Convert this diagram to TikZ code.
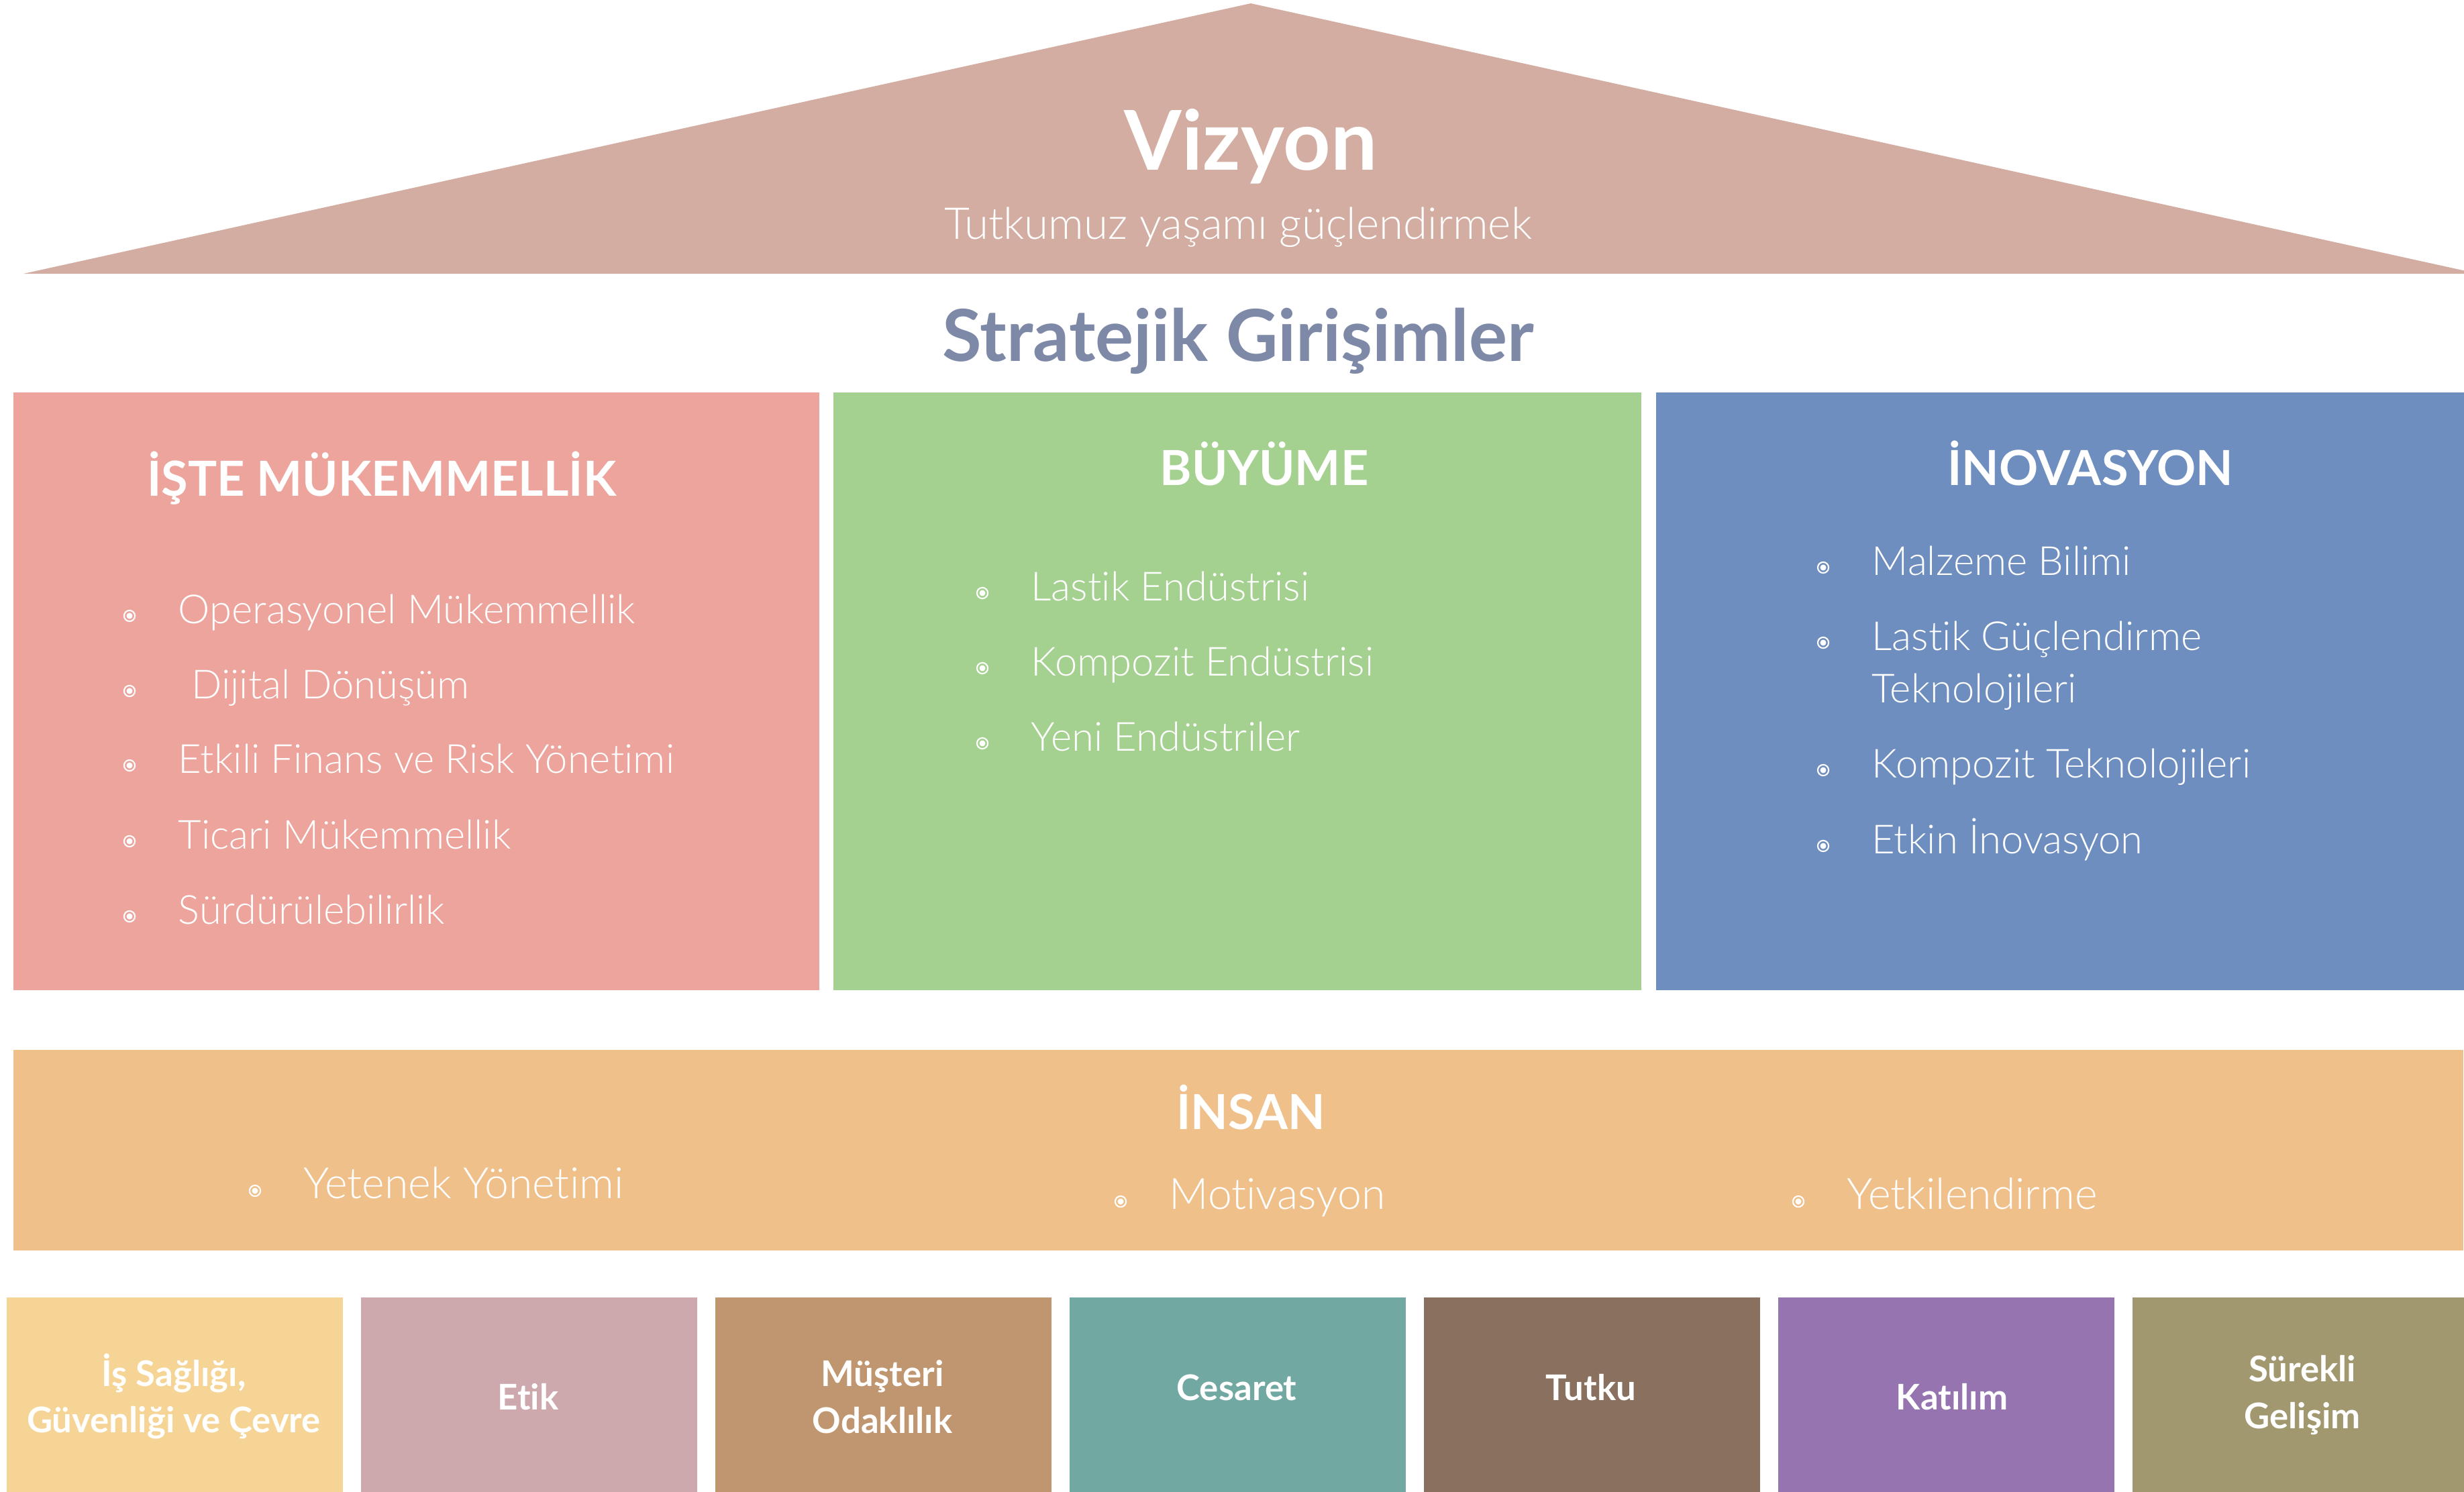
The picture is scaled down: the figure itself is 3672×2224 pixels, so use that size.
\documentclass[tikz,border=0pt]{standalone}
\usepackage{fontspec}
\setmainfont{Lato}[Ligatures={NoCommon}]
\newfontfamily\lightfont{Lato Light}[Ligatures={NoCommon}]
\definecolor{roofc}{HTML}{D3ADA2}
\definecolor{pinkc}{HTML}{ECA49C}
\definecolor{greenc}{HTML}{A5D190}
\definecolor{bluec}{HTML}{6E8EBF}
\definecolor{insanc}{HTML}{F0C08B}
\definecolor{titlec}{HTML}{7E89A8}
\definecolor{pa}{HTML}{F5D496}
\definecolor{pb}{HTML}{CDA8AD}
\definecolor{pc}{HTML}{BF966F}
\definecolor{pd}{HTML}{72A8A2}
\definecolor{pe}{HTML}{8A705F}
\definecolor{pf}{HTML}{9574AF}
\definecolor{pg}{HTML}{A29870}
\tikzset{
  itemtxt/.style={anchor=base west, text=white, inner sep=0pt, font=\lightfont\fontsize{17}{20}\selectfont},
  bigitem/.style={itemtxt, font=\lightfont\fontsize{18.3}{21}\selectfont},
  head/.style={anchor=base, text=white, inner sep=0pt, font=\bfseries\fontsize{20.5}{25}\selectfont},
  pillartxt/.style={anchor=base, text=white, inner sep=0pt, font=\bfseries\fontsize{15}{18}\selectfont},
  bulring/.style={circle, draw=white, line width=0.6pt, minimum size=4.6pt, inner sep=0pt},
  panel/.style={anchor=north west, inner sep=0pt, draw=none},
}
\newcommand\bitem[5][itemtxt]{%
  \node[bulring] (#2b) at (#3-72,#4-11) {};
  \fill[white] (#2b.center) circle (4.5);
  \node[#1] (#2) at (#3,#4) {#5};
}
\begin{document}
\begin{tikzpicture}[x=0.01cm,y=-0.01cm]
\useasboundingbox (0,0) rectangle (3672,2224);
\clip (0,0) rectangle (3672,2224);
% roof
\fill[roofc] (35,408) -- (1864,5) -- (3693,408) -- cycle;
\node[anchor=base, text=white, inner sep=0pt, font=\bfseries\fontsize{35}{40}\selectfont] (viz) at (1864,253) {Vizyon};
\node[anchor=base, text=white, inner sep=0pt, font=\lightfont\fontsize{18.6}{22}\selectfont] (vizsub) at (1845,356) {Tutkumuz yaşamı güçlendirmek};
\node[anchor=base, text=titlec, inner sep=0pt, font=\bfseries\fontsize{30.4}{36}\selectfont] (strat) at (1845,538) {Stratejik Girişimler};
% panels
\node[panel, fill=pinkc, minimum width=1201*0.01cm, minimum height=891*0.01cm] (pp) at (19,584) {};
\node[panel, fill=greenc, minimum width=1204*0.01cm, minimum height=891*0.01cm] (gp) at (1241,584) {};
\node[panel, fill=bluec, minimum width=1204*0.01cm, minimum height=891*0.01cm] (bp) at (2467,584) {};
\node[panel, fill=insanc, minimum width=3651*0.01cm, minimum height=299*0.01cm] (ip) at (19,1564) {};
% headings
\node[head] (h1) at (569,739) {İŞTE MÜKEMMELLİK};
\node[head] (h2) at (1884,723) {BÜYÜME};
\node[head] (h3) at (3115,723) {İNOVASYON};
\node[head] (h4) at (1864,1683) {İNSAN};
% pink items
\bitem{a1}{265}{929}{Operasyonel Mükemmellik}
\bitem{a2}{265}{1041}{\hspace{14\pgflinewidth}Dijital Dönüşüm}
\bitem{a3}{265}{1152}{Etkili Finans ve Risk Yönetimi}
\bitem{a4}{265}{1265}{Ticari Mükemmellik}
\bitem{a5}{265}{1377}{Sürdürülebilirlik}
% green items
\bitem{g1}{1536}{895}{Lastik Endüstrisi}
\bitem{g2}{1536}{1007}{Kompozit Endüstrisi}
\bitem{g3}{1536}{1119}{Yeni Endüstriler}
% blue items
\bitem{c1}{2789}{857}{Malzeme Bilimi}
\bitem{c2}{2789}{969}{Lastik Güçlendirme}
\node[itemtxt] (c2b2) at (2789,1047) {Teknolojileri};
\bitem{c3}{2789}{1159}{Kompozit Teknolojileri}
\bitem{c4}{2789}{1272}{Etkin İnovasyon}
% insan items
\bitem[bigitem]{i1}{452}{1786}{Yetenek Yönetimi}
\bitem[bigitem]{i2}{1742}{1802}{Motivasyon}
\bitem[bigitem]{i3}{2752}{1802}{Yetkilendirme}
% pillars
\foreach \k/\c in {0/pa,1/pb,2/pc,3/pd,4/pe,5/pf,6/pg}{
  \node[panel, fill=\c, minimum width=501*0.01cm, minimum height=300*0.01cm] (pil\k) at (9+528*\k,1933) {};
}
\node[pillartxt] (t1a) at (259,2066) {İş Sağlığı,};
\node[pillartxt] (t1b) at (259,2135) {Güvenliği ve Çevre};
\node[pillartxt] (t2) at (787,2101) {Etik};
\node[pillartxt] (t3a) at (1315,2066) {Müşteri};
\node[pillartxt] (t3b) at (1315,2136) {Odaklılık};
\node[pillartxt] (t4) at (1843,2087) {Cesaret};
\node[pillartxt] (t5) at (2371,2087) {Tutku};
\node[pillartxt] (t6) at (2909,2101) {Katılım};
\node[pillartxt] (t7a) at (3431,2059) {Sürekli};
\node[pillartxt] (t7b) at (3431,2129) {Gelişim};
\end{tikzpicture}
\end{document}
